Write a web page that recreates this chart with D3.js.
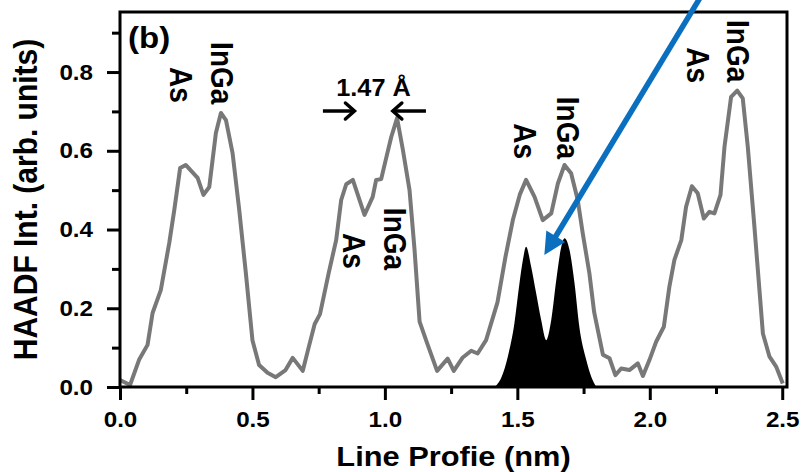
<!DOCTYPE html>
<html>
<head>
<meta charset="utf-8">
<title>HAADF line profile</title>
<script src="https://d3js.org/d3.v7.min.js"></script>
<style>
	body { margin: 0; background: #fff; }
	text { font-family: "Liberation Sans", Arial, sans-serif; font-weight: bold; }
</style>
</head>
<body>
<script>

	// data
	var profileX = [0.0, 0.038, 0.072, 0.104, 0.123, 0.154, 0.186, 0.205, 0.227, 0.248, 0.293, 0.315, 0.337, 0.362, 0.381, 0.400,
		0.425, 0.450, 0.475, 0.500, 0.525, 0.557, 0.588, 0.625, 0.652, 0.690, 0.712, 0.735, 0.755, 0.788, 0.816, 0.835,
		0.854, 0.879, 0.923, 0.954, 0.967, 0.986, 1.005, 1.024, 1.046, 1.068, 1.093, 1.112, 1.131, 1.160, 1.197, 1.237,
		1.260, 1.294, 1.326, 1.350, 1.382, 1.425, 1.455, 1.483, 1.510, 1.533, 1.565, 1.596, 1.628, 1.653, 1.678, 1.703,
		1.728, 1.747, 1.772, 1.790, 1.823, 1.848, 1.870, 1.892, 1.923, 1.955, 1.974, 1.999, 2.024, 2.053, 2.074, 2.093,
		2.119, 2.137, 2.159, 2.181, 2.204, 2.225, 2.244, 2.267, 2.282, 2.307, 2.330, 2.351, 2.370, 2.395, 2.427, 2.452,
		2.477, 2.502];
	var profileY = [0.018, 0.005, 0.069, 0.107, 0.188, 0.246, 0.366, 0.450, 0.556, 0.564, 0.531, 0.488, 0.508, 0.645, 0.696, 0.678,
		0.594, 0.450, 0.290, 0.119, 0.056, 0.036, 0.025, 0.043, 0.074, 0.041, 0.100, 0.160, 0.185, 0.290, 0.373, 0.475,
		0.515, 0.526, 0.437, 0.483, 0.526, 0.528, 0.582, 0.635, 0.683, 0.602, 0.500, 0.348, 0.166, 0.110, 0.041, 0.072,
		0.041, 0.075, 0.092, 0.085, 0.119, 0.215, 0.330, 0.424, 0.490, 0.526, 0.483, 0.424, 0.441, 0.517, 0.564, 0.543,
		0.475, 0.390, 0.289, 0.190, 0.082, 0.073, 0.030, 0.047, 0.043, 0.060, 0.028, 0.069, 0.115, 0.153, 0.255, 0.323,
		0.373, 0.458, 0.510, 0.492, 0.428, 0.445, 0.441, 0.488, 0.610, 0.737, 0.753, 0.733, 0.610, 0.407, 0.136, 0.077,
		0.052, 0.009];

	// simulated double peak (black)
	var simX = [1.414, 1.440, 1.464, 1.489, 1.508, 1.521, 1.533, 1.552, 1.571, 1.590, 1.609, 1.628, 1.647, 1.666, 1.678,
		1.697, 1.716, 1.734, 1.760, 1.779, 1.798];
	var simY = [0.0, 0.025, 0.077, 0.162, 0.263, 0.323, 0.356, 0.306, 0.238, 0.170, 0.119, 0.170, 0.272, 0.356, 0.378,
		0.348, 0.263, 0.153, 0.069, 0.026, 0.0];

	var xMajor = [0, 0.5, 1.0, 1.5, 2.0, 2.5];
	var xMinor = [0.25, 0.75, 1.25, 1.75, 2.25];
	var yMajor = [0, 0.2, 0.4, 0.6, 0.8];
	var yMinor = [0.1, 0.3, 0.5, 0.7, 0.9];

	// rotated atom labels, anchored in data units
	var labelText = ["As", "InGa", "As", "InGa", "As", "InGa", "As", "InGa"];
	var labelX = [0.187, 0.345, 0.840, 0.998, 1.489, 1.648, 2.142, 2.293];
	var labelY = [0.813, 0.876, 0.391, 0.455, 0.670, 0.737, 0.863, 0.932];

	var Settings = {
		width : 801,
		height : 472,
		left : 120,
		right : 787,
		top : 12,
		bottom : 387,
		lineColor : "#787878",
		blue : "#0a6fbf",
		stretch : 1.1   // the figure's lettering is a bit wide
	};

	var svg = d3.select("body").append("svg")
		.attr("width", Settings.width)
		.attr("height", Settings.height);

	var x = d3.scaleLinear().domain([0, 2.518]).range([Settings.left, Settings.right]);
	var y = d3.scaleLinear().domain([0, 0.9525]).range([Settings.bottom, Settings.top]);

	// text helper : position + horizontal stretch (+ optional rotation)
	function label(px, py, str, size, anchor, rot) {
		return svg.append("text")
			.attr("transform", "translate(" + px + "," + py + ") scale(" + Settings.stretch + ",1)" + (rot ? " rotate(" + rot + ")" : ""))
			.attr("text-anchor", anchor || "start")
			.style("font-size", size + "px")
			.text(str);
	}

	// black filled peaks
	var area = d3.area()
		.x(function (d) { return x(d[0]); })
		.y0(y(0))
		.y1(function (d) { return y(d[1]); })
		.curve(d3.curveMonotoneX);
	svg.append("path")
		.datum(d3.zip(simX, simY))
		.attr("d", area)
		.attr("fill", "#000");

	// gray profile
	var line = d3.line()
		.x(function (d) { return x(d[0]); })
		.y(function (d) { return y(d[1]); });
	svg.append("path")
		.datum(d3.zip(profileX, profileY))
		.attr("d", line)
		.attr("fill", "none")
		.attr("stroke", Settings.lineColor)
		.attr("stroke-width", 4)
		.attr("stroke-linejoin", "round");

	// axes
	var fmt = d3.format(".1f");
	var gx = svg.append("g").attr("transform", "translate(0," + Settings.bottom + ")");
	gx.call(d3.axisBottom(x).tickValues(xMajor).tickSize(13).tickPadding(11.5).tickFormat(fmt));
	gx.append("g").call(d3.axisBottom(x).tickValues(xMinor).tickSize(7).tickFormat(""));
	var gy = svg.append("g").attr("transform", "translate(" + Settings.left + ",0)");
	gy.call(d3.axisLeft(y).tickValues(yMajor).tickSize(13).tickPadding(11.5).tickFormat(fmt));
	gy.append("g").call(d3.axisLeft(y).tickValues(yMinor).tickSize(8).tickFormat(""));

	svg.selectAll(".domain").remove();
	svg.selectAll(".tick line").attr("stroke", "#000").attr("stroke-width", 3);
	svg.selectAll(".tick text")
		.attr("fill", "#000")
		.attr("transform", "scale(" + Settings.stretch + ",1)")
		.style("font-size", "22px")
		.style("font-family", null);

	// frame
	svg.append("rect")
		.attr("x", Settings.left)
		.attr("y", Settings.top)
		.attr("width", Settings.right - Settings.left)
		.attr("height", Settings.bottom - Settings.top)
		.attr("fill", "none")
		.attr("stroke", "#000")
		.attr("stroke-width", 3);

	// axis titles
	label((Settings.left + Settings.right) / 2, 466, "Line Profie (nm)", 28, "middle");
	label(37, (Settings.top + Settings.bottom) / 2, "HAADF Int. (arb. units)", 30, "middle", -90);
	label(128, 48, "(b)", 30);

	// atom labels
	for (var i = 0; i < labelText.length; i++) {
		label(x(labelX[i]), y(labelY[i]), labelText[i], 28, "start", 90);
	}

	// 1.47 A spacing with two arrows
	label(x(0.957), y(0.74), "1.47 Å", 23, "middle");

	var ay = y(0.701);
	[[x(0.766), x(0.885)], [x(1.155), x(1.030)]].forEach(function (p) {
		var dir = p[1] > p[0] ? 1 : -1;
		svg.append("line")
			.attr("x1", p[0]).attr("y1", ay).attr("x2", p[1] - dir * 2).attr("y2", ay)
			.attr("stroke", "#000").attr("stroke-width", 3.5);
		svg.append("path")
			.attr("d", "M" + (p[1] - dir * 9) + "," + (ay - 8) + "L" + p[1] + "," + ay + "L" + (p[1] - dir * 9) + "," + (ay + 8))
			.attr("fill", "none").attr("stroke", "#000").attr("stroke-width", 3.5)
			.attr("stroke-linecap", "round");
	});

	// blue pointer arrow
	var bx1 = x(2.2), by1 = y(1.0), bx2 = x(1.602), by2 = y(0.335);
	var ang = Math.atan2(by2 - by1, bx2 - bx1);
	var hl = 22, hw = 11;
	var baseX = bx2 - Math.cos(ang) * hl, baseY = by2 - Math.sin(ang) * hl;
	svg.append("line")
		.attr("x1", bx1).attr("y1", by1).attr("x2", baseX + Math.cos(ang) * 2).attr("y2", baseY + Math.sin(ang) * 2)
		.attr("stroke", Settings.blue).attr("stroke-width", 5.5);
	svg.append("path")
		.attr("d", "M" + bx2 + "," + by2 +
			"L" + (baseX - Math.sin(ang) * hw) + "," + (baseY + Math.cos(ang) * hw) +
			"L" + (baseX + Math.sin(ang) * hw) + "," + (baseY - Math.cos(ang) * hw) + "Z")
		.attr("fill", Settings.blue);

</script>
</body>
</html>
